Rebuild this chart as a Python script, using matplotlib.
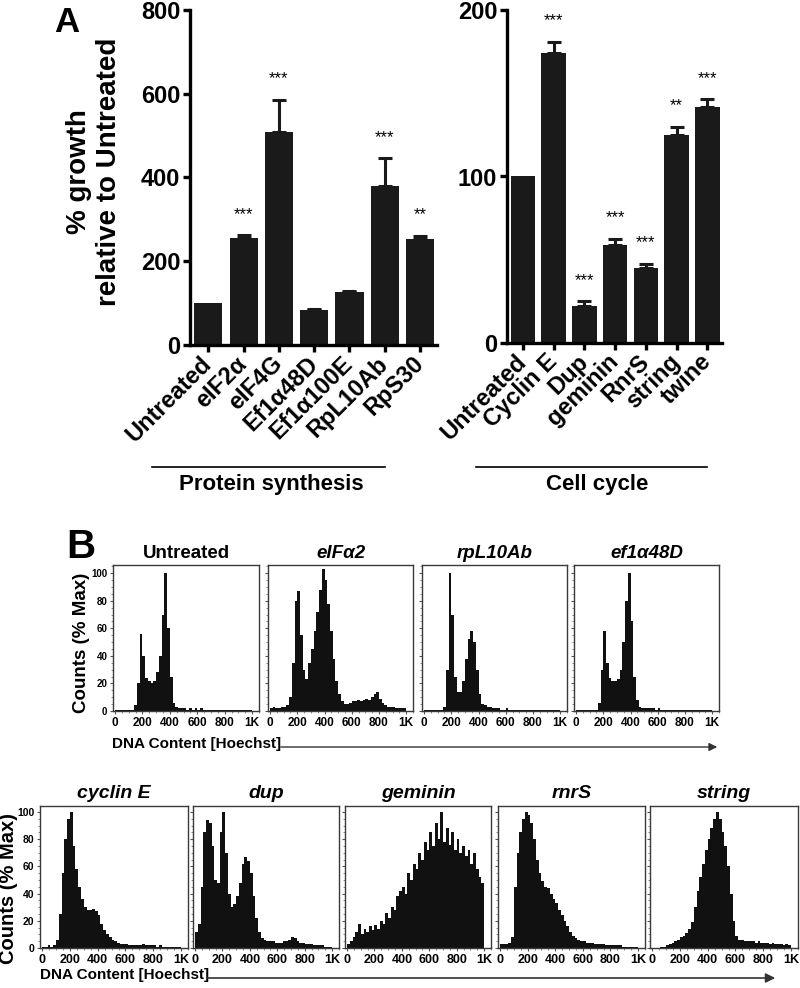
import numpy as np
import matplotlib
matplotlib.use("Agg")
import matplotlib.pyplot as plt
from matplotlib.ticker import MultipleLocator

plt.rcParams['font.family'] = ['Liberation Sans', 'DejaVu Sans']

W, H = 800, 988

# ---------------- Panel A data ----------------
protein_labels = ["Untreated", "eIF2α", "eIF4G", "Ef1α48D", "Ef1α100E", "RpL10Ab", "RpS30"]
protein_growth = [100, 256, 509, 84, 127, 380, 252]
protein_err = [0, 6, 77, 3, 3, 66, 9]
protein_stars = ["", "***", "***", "", "", "***", "**"]

cycle_labels = ["Untreated", "Cyclin E", "Dup", "geminin", "RnrS", "string", "twine"]
cycle_growth = [100, 174, 22, 59, 45, 125, 142]
cycle_err = [0, 7, 3, 3.5, 2.5, 5, 4.5]
cycle_stars = ["", "***", "***", "***", "***", "**", "***"]

# ---------------- Panel B data (counts, % max, 20-unit bins from 0 to 1000) ----------------
hist_untreated = [1, 1, 1, 1, 1, 1, 1, 4, 20, 56,
                  40, 24, 22, 20, 22, 28, 40, 70, 100, 60,
                  25, 6, 3, 2, 2, 2, 1, 2, 1, 2,
                  1, 2, 1, 1, 1, 1, 1, 1, 1, 1,
                  1, 1, 1, 1, 1, 1, 1, 1, 1, 1]
hist_eif2a = [2, 3, 2, 2, 3, 3, 4, 10, 35, 80,
              87, 55, 30, 23, 35, 45, 58, 72, 88, 103,
              95, 78, 58, 38, 22, 12, 7, 5, 5, 6,
              7, 7, 8, 7, 8, 9, 8, 10, 12, 14,
              9, 6, 4, 3, 3, 3, 2, 2, 2, 2]
hist_rpl10ab = [1, 1, 1, 1, 1, 1, 1, 3, 30, 100,
                70, 25, 14, 14, 22, 38, 52, 58, 50, 30,
                12, 5, 4, 3, 3, 2, 2, 2, 1, 1,
                2, 1, 1, 1, 1, 1, 1, 1, 1, 1,
                1, 1, 1, 1, 1, 1, 1, 1, 1, 1]
hist_ef1a48d = [1, 1, 1, 1, 1, 1, 1, 1, 6, 30,
                58, 35, 24, 22, 22, 23, 30, 50, 80, 100,
                65, 25, 8, 3, 2, 2, 2, 2, 2, 1,
                2, 1, 1, 1, 1, 1, 1, 1, 1, 1,
                1, 1, 1, 1, 1, 1, 1, 1, 1, 1]
hist_cyclin_e = [1, 1, 2, 1, 2, 6, 25, 55, 80, 95,
                 100, 75, 58, 45, 36, 30, 28, 28, 29, 27,
                 24, 18, 13, 10, 8, 6, 5, 4, 3, 3,
                 3, 2, 2, 2, 2, 2, 3, 2, 2, 2,
                 2, 1, 2, 1, 1, 1, 1, 1, 1, 1]
hist_dup = [12, 18, 45, 85, 94, 92, 75, 50, 48, 85,
            100, 70, 40, 30, 32, 38, 48, 62, 67, 64,
            55, 38, 22, 12, 7, 6, 5, 5, 5, 4,
            4, 4, 5, 5, 6, 8, 7, 5, 4, 4,
            3, 3, 3, 2, 2, 2, 2, 1, 1, 1]
hist_geminin = [3, 5, 8, 12, 18, 10, 14, 12, 16, 13,
                17, 14, 20, 18, 26, 22, 30, 28, 38, 42,
                45, 40, 55, 50, 62, 58, 70, 65, 78, 72,
                85, 75, 92, 80, 100, 78, 88, 76, 85, 72,
                80, 70, 75, 68, 72, 62, 70, 58, 52, 48]
hist_rnrs = [3, 3, 3, 4, 8, 45, 70, 85, 95, 100,
             98, 92, 80, 65, 55, 49, 45, 44, 40, 36,
             33, 28, 24, 20, 16, 12, 9, 7, 6, 5,
             5, 4, 4, 4, 3, 3, 3, 3, 2, 2,
             2, 2, 2, 2, 1, 1, 1, 1, 1, 1]
hist_string = [0, 0, 0, 1, 1, 2, 3, 4, 5, 6,
               8, 9, 11, 14, 19, 30, 42, 52, 62, 72,
               80, 88, 95, 100, 95, 85, 75, 60, 40, 20,
               9, 6, 6, 5, 5, 5, 5, 4, 5, 4,
               4, 4, 3, 4, 3, 3, 3, 2, 3, 2]

top_titles = ["Untreated", "eIFα2", "rpL10Ab", "ef1α48D"]
top_hists = [hist_untreated, hist_eif2a, hist_rpl10ab, hist_ef1a48d]
bottom_titles = ["cyclin E", "dup", "geminin", "rnrS", "string"]
bottom_hists = [hist_cyclin_e, hist_dup, hist_geminin, hist_rnrs, hist_string]

bin_edges = np.arange(0, 1001, 20)
dna_ticks = [0, 200, 400, 600, 800, 1000]
dna_ticklabels = ["0", "200", "400", "600", "800", "1K"]

BAR = "#1a1a1a"


def px_axes(fig, left, top, right, bottom):
    return fig.add_axes([left / W, 1 - bottom / H, (right - left) / W, (bottom - top) / H])


def bar_panel(ax, labels, vals, errs, stars, ymax, step):
    x = np.arange(len(labels))
    ax.bar(x, vals, width=0.8, color=BAR, zorder=2)
    has_err = [i for i, e in enumerate(errs) if e > 0]
    ax.errorbar(x[has_err], np.array(vals)[has_err],
                yerr=[np.zeros(len(has_err)), np.array(errs)[has_err]],
                fmt="none", ecolor=BAR, elinewidth=2.2, capsize=4.7, capthick=2.2, zorder=3)
    for xi, v, e, s in zip(x, vals, errs, stars):
        if s:
            ax.annotate(s, (xi, v + e), xytext=(0, 15), textcoords="offset points",
                        ha="center", va="center", fontsize=12)
    ax.set_xlim(-0.52, len(labels) - 0.52)
    ax.set_ylim(0, ymax)
    ax.set_yticks(np.arange(0, ymax + 1, step))
    ax.set_xticks(x)
    ax.set_xticklabels(labels, rotation=45, ha="right", va="center",
                       rotation_mode="anchor", fontsize=17, fontweight="bold")
    for lab in ax.get_yticklabels():
        lab.set_fontweight("bold")
    ax.spines["top"].set_visible(False)
    ax.spines["right"].set_visible(False)
    ax.spines["left"].set_linewidth(2.4)
    ax.spines["bottom"].set_linewidth(2.4)
    ax.tick_params(width=2.4, length=5, labelsize=17, pad=2)
    ax.tick_params(axis="x", pad=6)


def hist_panel(ax, counts, ytop, show_ylabels, xfs, yfs):
    ax.stairs(counts, bin_edges, fill=True, color="#111111")
    ax.set_xlim(-15, 1050)
    ax.set_ylim(0, ytop)
    ax.set_xticks(dna_ticks)
    ax.set_xticklabels(dna_ticklabels, fontsize=xfs, fontweight="bold")
    ax.xaxis.set_minor_locator(MultipleLocator(50))
    ax.set_yticks(range(0, 101, 20))
    ax.yaxis.set_minor_locator(MultipleLocator(5))
    if show_ylabels:
        for lab in ax.get_yticklabels():
            lab.set_fontweight("bold")
            lab.set_fontsize(yfs)
    else:
        ax.set_yticklabels([])
    for sp in ax.spines.values():
        sp.set_color("#3a3a3a")
        sp.set_linewidth(1.0)
    ax.tick_params(which="major", length=2.5, width=0.8, color="#555555", pad=1.5)
    ax.tick_params(which="minor", length=1.5, width=0.6, color="#777777")


fig = plt.figure(figsize=(W / 100, H / 100), dpi=100)

# Panel A
ax_p = px_axes(fig, 190, 10, 437, 345)
bar_panel(ax_p, protein_labels, protein_growth, protein_err, protein_stars, 800, 200)
ax_c = px_axes(fig, 507, 10, 722, 343)
bar_panel(ax_c, cycle_labels, cycle_growth, cycle_err, cycle_stars, 200, 100)

# Panel B, top row
top_bounds = [(113, 259), (268, 413), (422, 567), (574, 719)]
for i, ((l, r), title, counts) in enumerate(zip(top_bounds, top_titles, top_hists)):
    ax = px_axes(fig, l, 565, r, 711)
    hist_panel(ax, counts, 106, i == 0, 8.5, 7)
    style = "normal" if title == "Untreated" else "italic"
    fig.text((l + r) / 2 / W, 1 - 553 / H, title, ha="center", va="center",
             fontsize=13.5, fontweight="bold", style=style)

# Panel B, bottom row
bottom_bounds = [(40, 188), (193, 339), (345, 491), (498, 645), (650, 798)]
for i, ((l, r), title, counts) in enumerate(zip(bottom_bounds, bottom_titles, bottom_hists)):
    ax = px_axes(fig, l, 806, r, 948)
    hist_panel(ax, counts, 104.4, i == 0, 9, 7.5)
    fig.text((l + r) / 2 / W, 1 - 794 / H, title, ha="center", va="center",
             fontsize=14, fontweight="bold", style="italic")

# Overlay in pixel coordinates for labels, lines, arrows
ov = fig.add_axes([0, 0, 1, 1])
ov.set_xlim(0, W)
ov.set_ylim(H, 0)
ov.axis("off")

ov.text(54, 32, "A", fontsize=25, fontweight="bold", ha="left", va="baseline")
ov.text(66, 558, "B", fontsize=29, fontweight="bold", ha="left", va="baseline")

ov.text(94, 172, "% growth\nrelative to Untreated", rotation=90, ha="center", va="center",
        fontsize=20, fontweight="bold", linespacing=1.15)

ov.plot([152, 385], [467, 467], color="black", lw=1.2)
ov.text(271, 484, "Protein synthesis", ha="center", va="center", fontsize=16, fontweight="bold")
ov.plot([476, 707], [467, 467], color="black", lw=1.2)
ov.text(597, 484, "Cell cycle", ha="center", va="center", fontsize=16, fontweight="bold")

ov.text(82, 643, "Counts (% Max)", rotation=90, ha="center", va="center",
        fontsize=13.5, fontweight="bold")
ov.text(9, 888, "Counts (% Max)", rotation=90, ha="center", va="center",
        fontsize=14.5, fontweight="bold")

ov.text(112, 744, "DNA Content [Hoechst]", ha="left", va="center", fontsize=11, fontweight="bold")
ov.annotate("", xy=(720, 747), xytext=(278, 747),
            arrowprops=dict(arrowstyle="-|>", lw=1.0, color="#333333", mutation_scale=12))
ov.text(40, 975, "DNA Content [Hoechst]", ha="left", va="center", fontsize=11, fontweight="bold")
ov.annotate("", xy=(778, 978), xytext=(204, 978),
            arrowprops=dict(arrowstyle="-|>", lw=1.2, color="#333333", mutation_scale=14))

fig.savefig("out.png", dpi=100)
